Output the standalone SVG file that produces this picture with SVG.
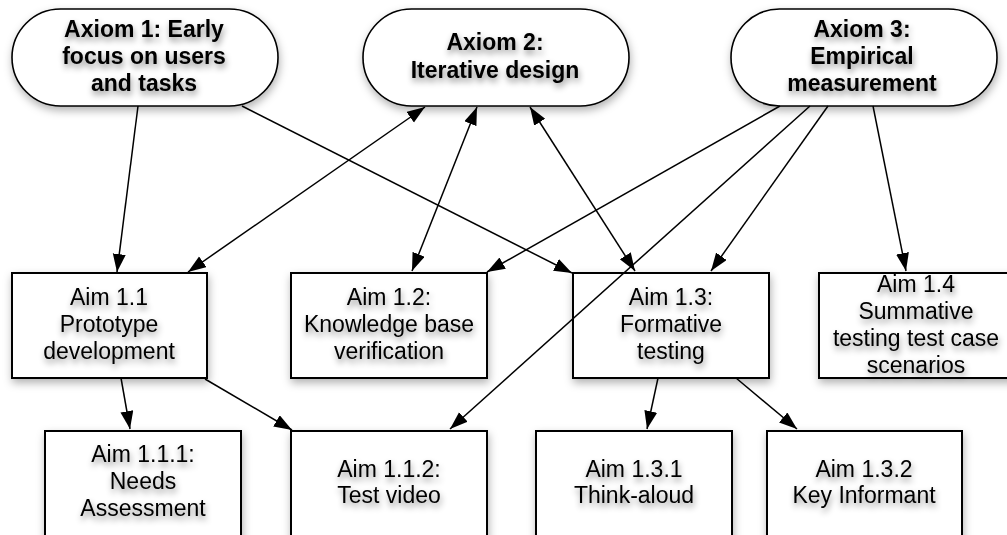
<svg xmlns="http://www.w3.org/2000/svg" width="1007" height="535" viewBox="0 0 1007 535">
  <defs>
    <filter id="boxShadow" x="-10%" y="-10%" width="130%" height="140%">
      <feDropShadow dx="1" dy="4" stdDeviation="4" flood-color="#000" flood-opacity="0.3"/>
    </filter>
    <filter id="textShadow" x="-10%" y="-40%" width="130%" height="200%">
      <feDropShadow dx="1" dy="4" stdDeviation="3" flood-color="#000" flood-opacity="0.45"/>
    </filter>
    <marker id="arrow" markerUnits="userSpaceOnUse" markerWidth="19" markerHeight="14" refX="18" refY="6.5" orient="auto-start-reverse">
      <path d="M0,0 L18,6.5 L0,13 z" fill="#000"/>
    </marker>
  </defs>
  <style>
    .pill { fill: #fff; stroke: #000; stroke-width: 1.6; filter: url(#boxShadow); }
    .box { fill: #fff; stroke: #000; stroke-width: 2; filter: url(#boxShadow); }
    .t { font-family: "Liberation Sans", Arial, Helvetica, sans-serif; font-size: 23px; fill: #000; text-anchor: middle; filter: url(#textShadow); }
    .b { font-weight: bold; }
    .edge { stroke: #000; stroke-width: 1.5; fill: none; marker-end: url(#arrow); }
    .both { marker-start: url(#arrow); }
  </style>

  <rect width="1007" height="535" fill="#fff"/>

  <!-- Axioms -->
  <g id="axiom1">
    <rect class="pill" x="12" y="9" width="266" height="97" rx="48.5" ry="48.5"/>
    <text class="t b" x="144"><tspan x="144" y="37">Axiom 1: Early</tspan><tspan x="144" y="64">focus on users</tspan><tspan x="144" y="91">and tasks</tspan></text>
  </g>
  <g id="axiom2">
    <rect class="pill" x="363" y="9" width="266" height="97" rx="48.5" ry="48.5"/>
    <text class="t b" x="495"><tspan x="495" y="50">Axiom 2:</tspan><tspan x="495" y="78">Iterative design</tspan></text>
  </g>
  <g id="axiom3">
    <rect class="pill" x="731" y="9" width="266" height="97" rx="48.5" ry="48.5"/>
    <text class="t b" x="862"><tspan x="862" y="37">Axiom 3:</tspan><tspan x="862" y="64">Empirical</tspan><tspan x="862" y="91">measurement</tspan></text>
  </g>

  <!-- Aims -->
  <g id="aim1-1">
    <rect class="box" x="12" y="273" width="195" height="105"/>
    <text class="t"><tspan x="109" y="305">Aim 1.1</tspan><tspan x="109" y="332">Prototype</tspan><tspan x="109" y="359">development</tspan></text>
  </g>
  <g id="aim1-2">
    <rect class="box" x="291" y="273" width="196" height="105"/>
    <text class="t"><tspan x="389" y="305">Aim 1.2:</tspan><tspan x="389" y="332">Knowledge base</tspan><tspan x="389" y="359">verification</tspan></text>
  </g>
  <g id="aim1-3">
    <rect class="box" x="573" y="273" width="196" height="105"/>
    <text class="t"><tspan x="671" y="305">Aim 1.3:</tspan><tspan x="671" y="332">Formative</tspan><tspan x="671" y="359">testing</tspan></text>
  </g>
  <g id="aim1-4">
    <rect class="box" x="819" y="273" width="196" height="105"/>
    <text class="t"><tspan x="916" y="292">Aim 1.4</tspan><tspan x="916" y="319">Summative</tspan><tspan x="916" y="346">testing test case</tspan><tspan x="916" y="373">scenarios</tspan></text>
  </g>
  <g id="aim1-1-1">
    <rect class="box" x="45" y="431" width="196" height="110"/>
    <text class="t"><tspan x="143" y="462">Aim 1.1.1:</tspan><tspan x="143" y="489">Needs</tspan><tspan x="143" y="516">Assessment</tspan></text>
  </g>
  <g id="aim1-1-2">
    <rect class="box" x="291" y="431" width="196" height="110"/>
    <text class="t"><tspan x="389" y="477">Aim 1.1.2:</tspan><tspan x="389" y="503">Test video</tspan></text>
  </g>
  <g id="aim1-3-1">
    <rect class="box" x="536" y="431" width="196" height="110"/>
    <text class="t"><tspan x="634" y="477">Aim 1.3.1</tspan><tspan x="634" y="503">Think-aloud</tspan></text>
  </g>
  <g id="aim1-3-2">
    <rect class="box" x="767" y="431" width="195" height="110"/>
    <text class="t"><tspan x="864" y="477">Aim 1.3.2</tspan><tspan x="864" y="503">Key Informant</tspan></text>
  </g>

  <!-- Connectors -->
  <g id="connectors">
    <line class="edge" x1="138" y1="106" x2="117" y2="272"/>
    <line class="edge" x1="242" y1="106" x2="572" y2="273"/>
    <line class="edge both" x1="425" y1="107" x2="188" y2="272"/>
    <line class="edge both" x1="477" y1="107" x2="412" y2="271"/>
    <line class="edge both" x1="530" y1="107" x2="635" y2="271"/>
    <line class="edge" x1="780" y1="106" x2="487" y2="272"/>
    <line class="edge" x1="810" y1="106" x2="450" y2="429"/>
    <line class="edge" x1="828" y1="106" x2="711" y2="271"/>
    <line class="edge" x1="873" y1="106" x2="906" y2="271"/>
    <line class="edge" x1="121" y1="378" x2="130" y2="429"/>
    <line class="edge" x1="205" y1="379" x2="292" y2="430"/>
    <line class="edge" x1="658" y1="378" x2="647" y2="429"/>
    <line class="edge" x1="736" y1="378" x2="797" y2="429"/>
  </g>
</svg>
